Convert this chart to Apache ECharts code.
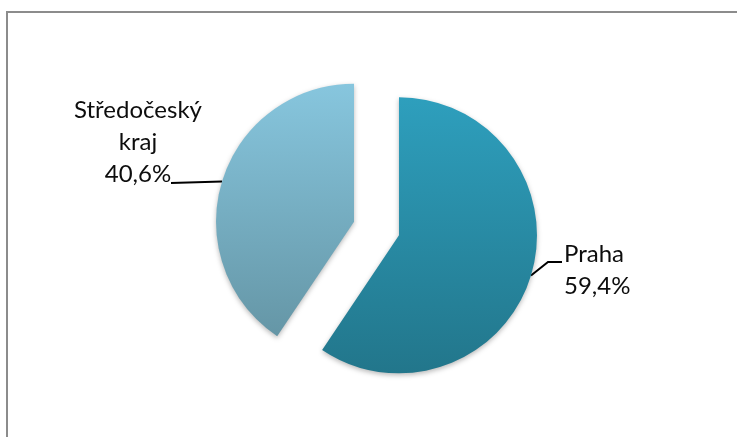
<!DOCTYPE html>
<html>
<head>
<meta charset="utf-8">
<title>Praha a Středočeský kraj</title>
<script src="https://cdn.jsdelivr.net/npm/echarts@6/dist/echarts.min.js"></script>
<style>
  html, body { margin: 0; padding: 0; background: #ffffff; }
  #frame {
    position: absolute; left: 6px; top: 11px; width: 760px; height: 460px;
    border-top: 2px solid #8c8c8c; border-left: 2px solid #8c8c8c;
    box-sizing: border-box;
  }
  #chart { position: absolute; left: 0; top: 0; width: 737px; height: 437px; }
</style>
</head>
<body>
<div id="frame"></div>
<div id="chart"></div>
<script>
// Shares of the two regions (percent)
const categories = ['Praha', 'Středočeský kraj'];
const shares = [59.4, 40.6];
// How each category name is broken into label lines
const nameLines = [['Praha'], ['Středočeský', 'kraj']];

// Vertical gradients for the two slices (top colour, bottom colour)
const sliceColors = [
  ['#2e9fbd', '#22768b'],
  ['#87c6de', '#6596a6']
];

// Label anchor points and text alignment
const labelSpots = [
  { x: 564, y: 270, align: 'left' },
  { x: 138, y: 142, align: 'center' }
];

// Pie geometry: centre of the unexploded pie, radius, explode distance
const pieCenter = [376.5, 228.5];
const pieRadius = 138;
const explode = 23.5;

const fmtPct = v => v.toFixed(1).replace('.', ',') + '%';

// Each slice is pulled out along its own bisector
const total = shares.reduce((a, b) => a + b, 0);
let acc = 0;
const sliceCenters = shares.map(v => {
  const mid = (acc + v / 2) / total * 2 * Math.PI; // clockwise from 12 o'clock
  acc += v;
  return [pieCenter[0] + explode * Math.sin(mid), pieCenter[1] - explode * Math.cos(mid)];
});

const hidden = {
  itemStyle: { color: 'rgba(0,0,0,0)', shadowBlur: 0, shadowColor: 'rgba(0,0,0,0)' },
  label: { show: false },
  labelLine: { show: false }
};

function sliceSeries(k) {
  return {
    type: 'pie',
    silent: true,
    center: sliceCenters[k],
    radius: [0, pieRadius],
    startAngle: 90,
    clockwise: true,
    avoidLabelOverlap: false,
    itemStyle: {
      borderWidth: 0,
      shadowBlur: 5,
      shadowColor: 'rgba(0,0,0,0.28)',
      shadowOffsetX: 0,
      shadowOffsetY: 2
    },
    label: {
      show: true,
      position: 'outside',
      fontFamily: 'Lato',
      fontSize: 24,
      lineHeight: 32,
      color: '#0d0d0d',
      formatter: p => nameLines[p.dataIndex].concat(fmtPct(p.value)).join('\n')
    },
    labelLine: {
      show: true,
      lineStyle: { color: '#000000', width: 2 }
    },
    labelLayout: function (params) {
      if (params.dataIndex !== k) return {};
      const spot = labelSpots[k];
      const anchor = params.labelLinePoints ? params.labelLinePoints[0] : null;
      const h = params.labelRect.height;
      let pts;
      if (spot.align === 'left') {
        const yLine = spot.y - h / 2 + 24;
        pts = [anchor, [spot.x - 16, yLine], [spot.x - 2, yLine]];
      } else {
        pts = [anchor, [spot.x + 33, spot.y + h / 2 - 7]];
      }
      return {
        x: spot.x,
        y: spot.y,
        align: spot.align,
        verticalAlign: 'middle',
        labelLinePoints: anchor ? pts : undefined
      };
    },
    emphasis: { disabled: true },
    data: categories.map((name, i) => i === k ? {
      name: name,
      value: shares[i],
      itemStyle: {
        color: new echarts.graphic.LinearGradient(0, 0, 0, 1, [
          { offset: 0, color: sliceColors[i][0] },
          { offset: 1, color: sliceColors[i][1] }
        ])
      }
    } : Object.assign({ name: name, value: shares[i] }, hidden))
  };
}

const chart = echarts.init(document.getElementById('chart'), null, { renderer: 'canvas' });
chart.setOption({
  animation: false,
  backgroundColor: 'transparent',
  series: [sliceSeries(0), sliceSeries(1)]
});
</script>
</body>
</html>
